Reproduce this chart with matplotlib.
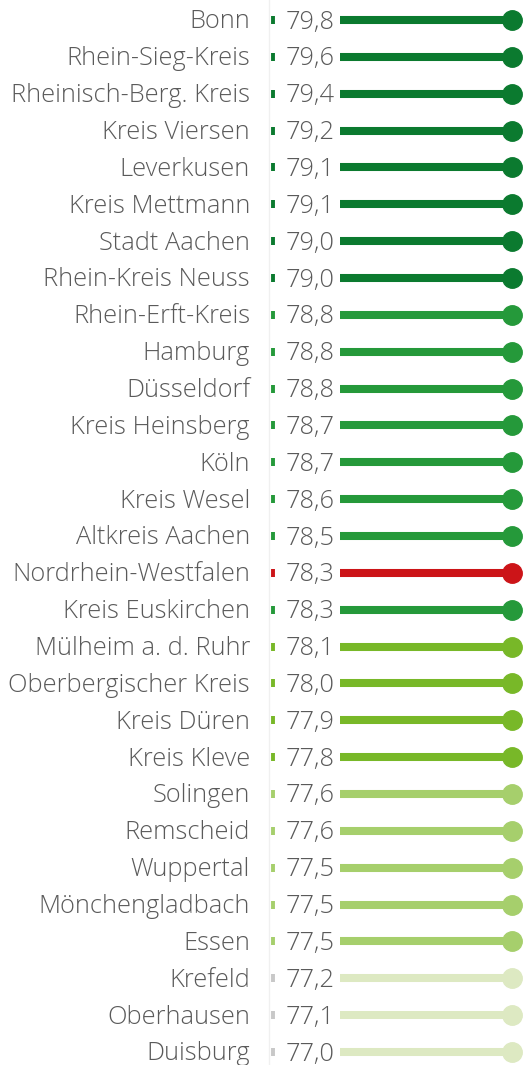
import matplotlib.pyplot as plt

names = ['Bonn', 'Rhein-Sieg-Kreis', 'Rheinisch-Berg. Kreis', 'Kreis Viersen', 'Leverkusen',
         'Kreis Mettmann', 'Stadt Aachen', 'Rhein-Kreis Neuss', 'Rhein-Erft-Kreis', 'Hamburg',
         'Düsseldorf', 'Kreis Heinsberg', 'Köln', 'Kreis Wesel', 'Altkreis Aachen',
         'Nordrhein-Westfalen', 'Kreis Euskirchen', 'Mülheim a. d. Ruhr', 'Oberbergischer Kreis',
         'Kreis Düren', 'Kreis Kleve', 'Solingen', 'Remscheid', 'Wuppertal', 'Mönchengladbach',
         'Essen', 'Krefeld', 'Oberhausen', 'Duisburg']
values = [79.8, 79.6, 79.4, 79.2, 79.1, 79.1, 79.0, 79.0, 78.8, 78.8, 78.8, 78.7, 78.7, 78.6,
          78.5, 78.3, 78.3, 78.1, 78.0, 77.9, 77.8, 77.6, 77.6, 77.5, 77.5, 77.5, 77.2, 77.1, 77.0]
groups = [0] * 8 + [1] * 7 + [2] + [1] + [3] * 4 + [4] * 5 + [5] * 3

# colour per group: dark green, green, red (NRW), yellow-green, light green, pale
group_colors = ['#0b7a2f', '#25993a', '#cc1418', '#78b828', '#a6cf6c', '#dde9c2']
tick_colors = ['#0b7a2f', '#25993a', '#cc1418', '#78b828', '#a6cf6c', '#c8c8c8']

fig = plt.figure(figsize=(5.24, 10.65), dpi=100)
ax = fig.add_axes([0, 0, 1, 1])
ax.set_xlim(0, 524)
ax.set_ylim(1065, 0)
ax.axis('off')

top = 20
step = (1052 - 20) / 28

ax.plot([269, 269], [0, 1065], color='#f0f0f0', lw=1, zorder=0)

for i in range(len(names)):
    y = top + i * step
    c = group_colors[groups[i]]
    ax.text(250, y + 2, names[i], ha='right', va='center', fontsize=18.3,
            color='#5a5a5a', family='Open Sans', weight='light')
    ax.plot([273, 273], [y - 4, y + 4], color=tick_colors[groups[i]], lw=2.8, solid_capstyle='butt')
    ax.text(286, y + 2, ('%.1f' % values[i]).replace('.', ','), ha='left', va='center',
            fontsize=18.3, color='#5a5a5a', family='Open Sans', weight='light')
    ax.plot([340, 512], [y, y], color=c, lw=5.8, solid_capstyle='butt')
    ax.plot(512, y, 'o', color=c, markersize=14)

plt.savefig('out.png', dpi=100)
